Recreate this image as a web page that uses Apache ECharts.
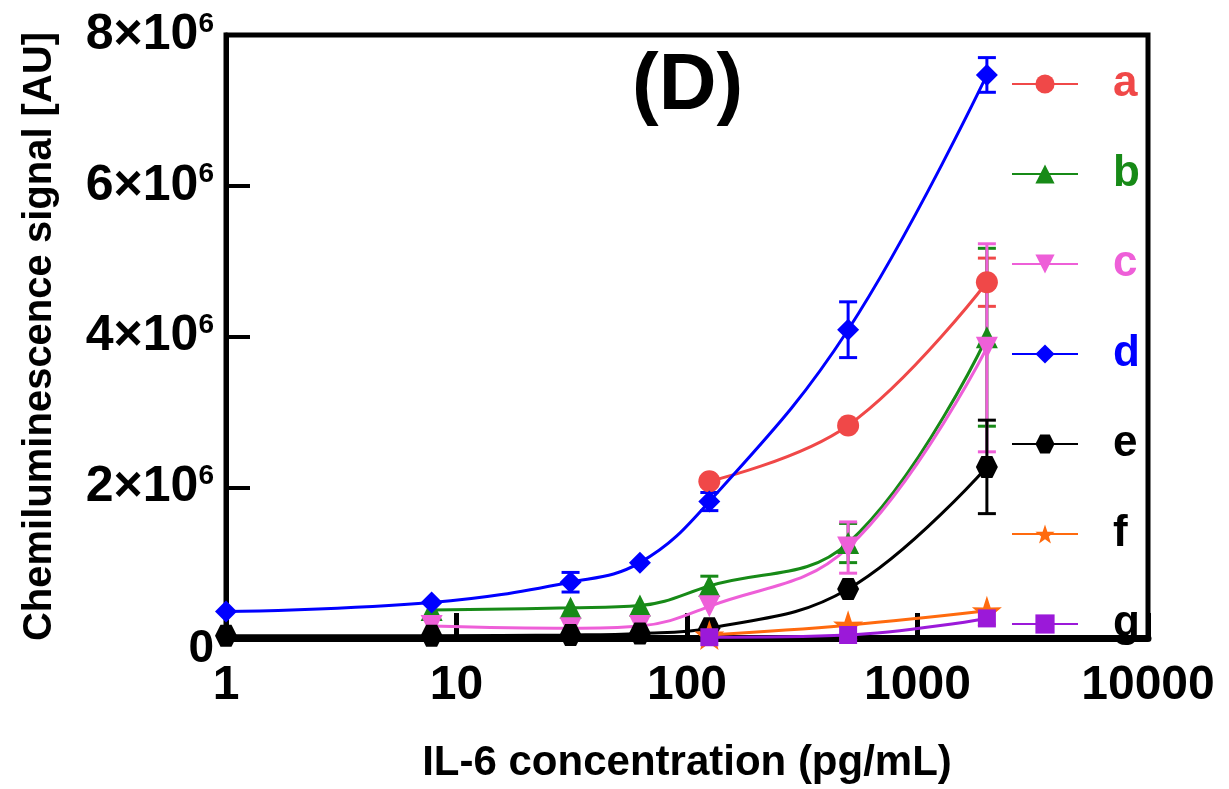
<!DOCTYPE html>
<html>
<head>
<meta charset="utf-8">
<script src="https://cdn.jsdelivr.net/npm/echarts@6/dist/echarts.min.js"></script>
<style>
  html, body { margin: 0; padding: 0; background: #fff; }
  #main { width: 1229px; height: 789px; }
</style>
</head>
<body>
<div id="main"></div>
<script>
// IL-6 concentration (pg/mL)
const conc = [1, 7.8, 31.25, 62.5, 125, 500, 2000];
const xTicks = [1, 10, 100, 1000, 10000];
const yTicks = [0, 2e6, 4e6, 6e6, 8e6];

// mean signal per curve (null = not measured)
const valA = [null, null, null, null, 2.08e6, 2.82e6, 4.72e6];
const valB = [null, 0.37e6, 0.4e6, 0.43e6, 0.69e6, 1.26e6, 3.99e6];
const valC = [null, 0.16e6, 0.13e6, 0.16e6, 0.42e6, 1.2e6, 3.85e6];
const valD = [0.35e6, 0.47e6, 0.74e6, 1.0e6, 1.81e6, 4.09e6, 7.47e6];
const valE = [0.03e6, 0.03e6, 0.04e6, 0.06e6, 0.13e6, 0.65e6, 2.27e6];
const valF = [null, null, null, null, 0.04e6, 0.17e6, 0.36e6];
const valG = [null, null, null, null, 0.01e6, 0.04e6, 0.26e6];

// error (+/-), null = no visible bar
const errA = [null, null, null, null, null, null, 0.32e6];
const errB = [null, null, null, null, 0.13e6, 0.26e6, 1.18e6];
const errC = [null, null, null, null, null, 0.34e6, 1.38e6];
const errD = [null, null, 0.13e6, null, 0.12e6, 0.37e6, 0.23e6];
const errE = [null, null, null, null, null, null, 0.62e6];

const names = ['a', 'b', 'c', 'd', 'e', 'f', 'g'];
const colors = ['#f04848', '#178a17', '#ee5fd8', '#0000ff', '#000000', '#ff6a0e', '#9b19d9'];

const sans = "'Liberation Sans', Arial, sans-serif";

const hexagon = 'path://M25,6.7 L75,6.7 L100,50 L75,93.3 L25,93.3 L0,50 Z';
const star = 'path://M50,0 L61.8,35.1 L97.6,34.5 L69.1,56.7 L79.4,90.5 L50,70 L20.6,90.5 L30.9,56.7 L2.4,34.5 L38.2,35.1 Z';

const curves = [
    { vals: valA, err: errA, symbol: 'circle', size: 22, rotate: 0 },
    { vals: valB, err: errB, symbol: 'triangle', size: 22, rotate: 0 },
    { vals: valC, err: errC, symbol: 'triangle', size: 22, rotate: 180 },
    { vals: valD, err: errD, symbol: 'diamond', size: 22, rotate: 0 },
    { vals: valE, err: errE, symbol: hexagon, size: 22, rotate: 0 },
    { vals: valF, err: null, symbol: star, size: 30, rotate: 0 },
    { vals: valG, err: null, symbol: 'rect', size: 18, rotate: 0 }
];

function pairs(vals) {
    const out = [];
    vals.forEach((v, i) => {
        if (v !== null) out.push([conc[i], v]);
    });
    return out;
}

function errPairs(vals, err) {
    const out = [];
    err.forEach((e, i) => {
        if (e !== null && vals[i] !== null) out.push([conc[i], vals[i] - e, vals[i] + e]);
    });
    return out;
}

function errorBar(color) {
    return function (params, api) {
        const x = api.value(0);
        const lo = api.coord([x, api.value(1)]);
        const hi = api.coord([x, api.value(2)]);
        const w = 9;
        const style = { stroke: color, lineWidth: 3 };
        return {
            type: 'group',
            children: [
                { type: 'line', shape: { x1: lo[0], y1: lo[1], x2: hi[0], y2: hi[1] }, style: style },
                { type: 'line', shape: { x1: lo[0] - w, y1: lo[1], x2: lo[0] + w, y2: lo[1] }, style: style },
                { type: 'line', shape: { x1: hi[0] - w, y1: hi[1], x2: hi[0] + w, y2: hi[1] }, style: style }
            ]
        };
    };
}

const series = [];
curves.forEach((c, i) => {
    if (c.err) {
        series.push({
            name: names[i] + '-err',
            type: 'custom',
            renderItem: errorBar(colors[i]),
            encode: { x: 0, y: [1, 2] },
            data: errPairs(c.vals, c.err),
            z: 2
        });
    }
});
curves.forEach((c, i) => {
    series.push({
        name: names[i],
        type: 'line',
        smooth: 0.4,
        data: pairs(c.vals),
        symbol: c.symbol,
        symbolSize: c.size,
        symbolRotate: c.rotate,
        showAllSymbol: true,
        lineStyle: { color: colors[i], width: 3 },
        itemStyle: { color: colors[i] },
        z: 3
    });
});

const chart = echarts.init(document.getElementById('main'));
chart.setOption({
    animation: false,
    backgroundColor: '#fff',
    title: {
        text: '(D)',
        left: 627,
        top: 40,
        textStyle: { fontFamily: sans, fontSize: 80, fontWeight: 'bold', color: '#000', lineHeight: 84 }
    },
    grid: {
        left: 226, right: 81, top: 35, bottom: 139,
        show: true, borderColor: '#000', borderWidth: 5
    },
    legend: {
        orient: 'vertical',
        left: 1006,
        top: 56,
        itemWidth: 66,
        itemHeight: 24,
        itemGap: 44,
        data: names.map((n, i) => ({
            name: n,
            textStyle: { color: i < 4 ? colors[i] : '#000' }
        })),
        textStyle: {
            fontFamily: sans, fontSize: 44, fontWeight: 'bold', lineHeight: 46,
            padding: [0, 0, 0, 30]
        }
    },
    xAxis: {
        type: 'log',
        logBase: 10,
        min: xTicks[0],
        max: xTicks[xTicks.length - 1],
        name: 'IL-6 concentration (pg/mL)',
        nameLocation: 'middle',
        nameGap: 104,
        nameTextStyle: { fontFamily: sans, fontSize: 42, fontWeight: 'bold', color: '#000' },
        axisLine: { lineStyle: { color: '#000', width: 7 } },
        axisTick: { inside: true, length: 25, lineStyle: { color: '#000', width: 5 } },
        minorTick: { show: false },
        splitLine: { show: false },
        axisLabel: {
            margin: 24,
            fontFamily: sans, fontSize: 48, fontWeight: 'bold', color: '#000',
            formatter: v => String(Math.round(v))
        }
    },
    yAxis: {
        type: 'value',
        min: yTicks[0],
        max: yTicks[yTicks.length - 1],
        interval: yTicks[1] - yTicks[0],
        name: 'Chemiluminescence signal [AU]',
        nameLocation: 'middle',
        nameGap: 166,
        nameTextStyle: { fontFamily: sans, fontSize: 40, fontWeight: 'bold', color: '#000' },
        axisLine: { show: true, lineStyle: { color: '#000', width: 5 } },
        axisTick: { inside: true, length: 24, lineStyle: { color: '#000', width: 4 } },
        splitLine: { show: false },
        axisLabel: {
            margin: 12,
            color: '#000',
            formatter: v => v === 0 ? '{z|0}' : '{b|' + (v / 1e6) + '×10}{s|6}',
            rich: {
                b: { fontFamily: sans, fontSize: 50, fontWeight: 'bold', color: '#000', lineHeight: 50 },
                s: { fontFamily: sans, fontSize: 28, fontWeight: 'bold', color: '#000', lineHeight: 28, verticalAlign: 'top' },
                z: { fontFamily: sans, fontSize: 46, fontWeight: 'bold', color: '#000', lineHeight: 46, padding: [22, 0, 0, 0] }
            }
        }
    },
    series: series
});
</script>
</body>
</html>
